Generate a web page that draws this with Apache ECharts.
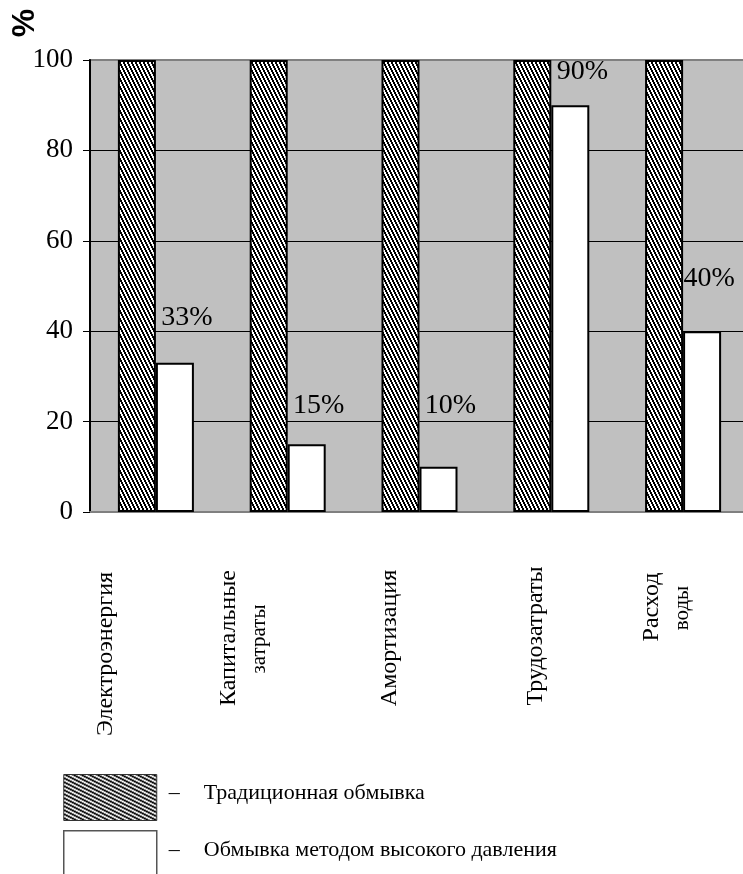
<!DOCTYPE html>
<html>
<head>
<meta charset="utf-8">
<script src="https://cdn.jsdelivr.net/npm/echarts@6/dist/echarts.min.js"></script>
<style>
  html, body { margin: 0; padding: 0; background: #fff; overflow: hidden; }
  #chart { width: 760px; height: 874px; }
</style>
</head>
<body>
<div id="chart"></div>
<script>
// Categories (axis names) and the lines they are printed on
const categories = ['Электроэнергия', 'Капитальные затраты', 'Амортизация', 'Трудозатраты', 'Расход воды'];
const categoryLines = [
  ['Электроэнергия'],
  ['Капитальные', 'затраты'],
  ['Амортизация'],
  ['Трудозатраты'],
  ['Расход', 'воды']
];
const seriesNames = ['Традиционная обмывка', 'Обмывка методом высокого давления'];
const traditionalValues = [100, 100, 100, 100, 100];
const highPressureValues = [33, 15, 10, 90, 40];
const yMin = 0;
const yMax = 100;
const yStep = 20;

// Placement of the value labels above the white bars
const valueLabelOffsets = [[12, -26], [12, -20], [12, -42], [12, -15], [7, -34]];
// Placement of category text lines: [dx from category centre, centre y, font size]
const categoryLineLayout = [
  [[-50, 654, 24]],
  [[-59, 638, 24], [-28, 639, 21]],
  [[-30, 638, 24]],
  [[-16, 636, 24]],
  [[-31, 607, 24], [-1, 608, 21]]
];

const SERIF = '"Liberation Serif", "Times New Roman", serif';

// Diagonal black/white hatch tile
function hatchTile(steep) {
  const w = steep ? 4 : 8, h = steep ? 8 : 4;
  const c = document.createElement('canvas');
  c.width = w; c.height = h;
  const ctx = c.getContext('2d');
  ctx.fillStyle = '#fff';
  ctx.fillRect(0, 0, w, h);
  ctx.fillStyle = '#000';
  for (let y = 0; y < h; y++) {
    for (let x = 0; x < w; x++) {
      const k = steep ? (x - Math.floor(y / 2)) : (Math.floor(x / 2) - y);
      if (((k % 4) + 4) % 4 < 2) ctx.fillRect(x, y, 1, 1);
    }
  }
  return c;
}
const barHatch = { image: hatchTile(true), repeat: 'repeat' };
const legendHatch = { image: hatchTile(false), repeat: 'repeat' };

const chart = echarts.init(document.getElementById('chart'), null, { renderer: 'canvas' });

const option = {
  animation: false,
  backgroundColor: '#fff',
  grid: {
    left: 90, top: 60, width: 659, height: 452,
    show: true,
    backgroundColor: '#c0c0c0',
    borderColor: '#808080',
    borderWidth: 2,
    containLabel: false
  },
  legend: {
    orient: 'vertical',
    left: 63, top: 774,
    height: 120,
    padding: 0,
    itemWidth: 93, itemHeight: 46, itemGap: 9,
    icon: 'rect',
    selectedMode: false,
    data: [
      { name: seriesNames[0], itemStyle: { color: legendHatch, borderColor: '#333', borderWidth: 1 } },
      { name: seriesNames[1], itemStyle: { color: '#fff', borderColor: '#555', borderWidth: 1.5 } }
    ],
    formatter: name => '{d|–}{t|' + name + '}',
    textStyle: {
      color: '#000', fontFamily: SERIF, fontSize: 22,
      rich: {
        d: { fontFamily: SERIF, fontSize: 22, color: '#000', padding: [0, 24, 8, 7] },
        t: { fontFamily: SERIF, fontSize: 22, color: '#000', padding: [0, 0, 8, 0] }
      }
    }
  },
  xAxis: {
    type: 'category',
    data: categories,
    axisLine: { show: true, lineStyle: { color: '#808080', width: 2 } },
    axisTick: { show: false },
    axisLabel: { show: false },
    splitLine: { show: false }
  },
  yAxis: {
    type: 'value',
    min: yMin, max: yMax, interval: yStep,
    axisLine: { show: true, lineStyle: { color: '#000', width: 2 } },
    axisTick: { show: true, length: 7, lineStyle: { color: '#000', width: 1 } },
    axisLabel: { color: '#000', fontFamily: SERIF, fontSize: 27, margin: 17 },
    splitLine: { show: true, showMinLine: false, showMaxLine: false, lineStyle: { color: '#000', width: 1 } }
  },
  series: [
    {
      name: seriesNames[0],
      type: 'bar',
      data: traditionalValues,
      barWidth: 38,
      barGap: '0%',
      itemStyle: { color: barHatch, borderColor: '#000', borderWidth: 2 },
      z: 3
    },
    {
      name: seriesNames[1],
      type: 'bar',
      data: highPressureValues.map((v, i) => ({
        value: v,
        label: { offset: valueLabelOffsets[i] }
      })),
      barWidth: 38,
      barGap: '0%',
      itemStyle: { color: '#fff', borderColor: '#000', borderWidth: 2 },
      label: {
        show: true,
        position: 'top',
        distance: 5,
        formatter: '{c}%',
        color: '#000',
        fontFamily: SERIF,
        fontSize: 28
      },
      z: 3
    }
  ]
};

chart.setOption(option);

// Rotated category names below the plot, and the rotated unit sign
const graphics = [{
  type: 'text',
  x: 25, y: 23,
  rotation: Math.PI / 2,
  style: {
    text: '%',
    font: 'bold 32px "Liberation Sans", Arial, sans-serif',
    fill: '#000',
    textAlign: 'center', textVerticalAlign: 'middle',
    align: 'center', verticalAlign: 'middle'
  }
}];
categories.forEach((cat, i) => {
  const cx = chart.convertToPixel({ xAxisIndex: 0 }, cat);
  categoryLines[i].forEach((line, j) => {
    const [dx, cy, size] = categoryLineLayout[i][j];
    graphics.push({
      type: 'text',
      x: cx + dx, y: cy,
      rotation: Math.PI / 2,
      style: {
        text: line,
        font: size + 'px ' + SERIF,
        fill: '#000',
        textAlign: 'center', textVerticalAlign: 'middle',
        align: 'center', verticalAlign: 'middle'
      }
    });
  });
});
chart.setOption({ graphic: graphics });
</script>
</body>
</html>
